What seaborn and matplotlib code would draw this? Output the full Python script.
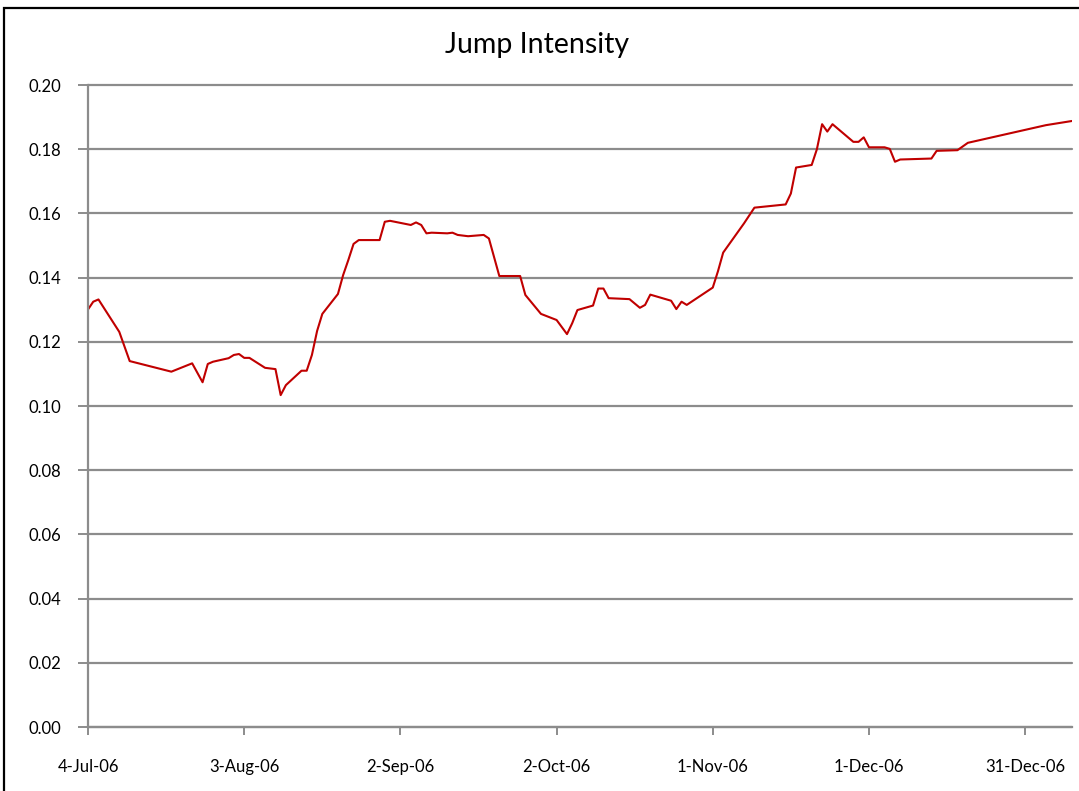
import pandas as pd
import seaborn as sns
import matplotlib
matplotlib.use("Agg")
import matplotlib.pyplot as plt
from matplotlib.patches import Rectangle

# values
dates = [
    "2006-07-04", "2006-07-05", "2006-07-06", "2006-07-10", "2006-07-12",
    "2006-07-20", "2006-07-24", "2006-07-26", "2006-07-27", "2006-07-28",
    "2006-07-31", "2006-08-01", "2006-08-02", "2006-08-03", "2006-08-04",
    "2006-08-07", "2006-08-09", "2006-08-10", "2006-08-11", "2006-08-14",
    "2006-08-15", "2006-08-16", "2006-08-17", "2006-08-18", "2006-08-21",
    "2006-08-22", "2006-08-23", "2006-08-24", "2006-08-25", "2006-08-29",
    "2006-08-30", "2006-08-31", "2006-09-04", "2006-09-05", "2006-09-06",
    "2006-09-07", "2006-09-08", "2006-09-11", "2006-09-12", "2006-09-13",
    "2006-09-15", "2006-09-18", "2006-09-19", "2006-09-21", "2006-09-25",
    "2006-09-26", "2006-09-29", "2006-10-02", "2006-10-04", "2006-10-05",
    "2006-10-06", "2006-10-09", "2006-10-10", "2006-10-11", "2006-10-12",
    "2006-10-16", "2006-10-18", "2006-10-19", "2006-10-20", "2006-10-24",
    "2006-10-25", "2006-10-26", "2006-10-27", "2006-11-01", "2006-11-02",
    "2006-11-03", "2006-11-07", "2006-11-09", "2006-11-15", "2006-11-16",
    "2006-11-17", "2006-11-20", "2006-11-21", "2006-11-22", "2006-11-23",
    "2006-11-24", "2006-11-28", "2006-11-29", "2006-11-30", "2006-12-01",
    "2006-12-04", "2006-12-05", "2006-12-06", "2006-12-07", "2006-12-13",
    "2006-12-14", "2006-12-18", "2006-12-20", "2007-01-04", "2007-01-09",
]
intensity = [
    0.1301, 0.1325, 0.1332, 0.1231, 0.1140,
    0.1107, 0.1133, 0.1074, 0.1131, 0.1138,
    0.1149, 0.1159, 0.1162, 0.1150, 0.1150,
    0.1119, 0.1115, 0.1034, 0.1065, 0.1110,
    0.1110, 0.1159, 0.1234, 0.1287, 0.1349,
    0.1408, 0.1455, 0.1505, 0.1517, 0.1517,
    0.1574, 0.1577, 0.1564, 0.1572, 0.1564,
    0.1538, 0.1540, 0.1538, 0.1540, 0.1533,
    0.1529, 0.1533, 0.1522, 0.1405, 0.1405,
    0.1346, 0.1287, 0.1268, 0.1224, 0.1258,
    0.1299, 0.1313, 0.1366, 0.1366, 0.1336,
    0.1333, 0.1306, 0.1315, 0.1347, 0.1328,
    0.1302, 0.1325, 0.1315, 0.1369, 0.1420,
    0.1478, 0.1569, 0.1618, 0.1628, 0.1662,
    0.1743, 0.1751, 0.1800, 0.1878, 0.1855,
    0.1878, 0.1823, 0.1823, 0.1837, 0.1806,
    0.1806, 0.1801, 0.1761, 0.1768, 0.1771,
    0.1795, 0.1797, 0.1820, 0.1875, 0.1888,
]
tick_labels = ["4-Jul-06", "3-Aug-06", "2-Sep-06", "2-Oct-06",
               "1-Nov-06", "1-Dec-06", "31-Dec-06"]

df = pd.DataFrame({"Date": pd.to_datetime(dates), "Jump Intensity": intensity})
tick_dates = pd.date_range("2006-07-04", periods=len(tick_labels), freq="30D")

sns.set_style("white")
plt.rcParams["font.family"] = ["Lato", "DejaVu Sans"]

fig = plt.figure(figsize=(10.79, 7.91), dpi=100)
ax = fig.add_axes([0.0816, 0.0809, 0.9119, 0.8116])

sns.lineplot(data=df, x="Date", y="Jump Intensity", color="#C00000",
             linewidth=1.5, ax=ax)

ax.set_xlim(pd.Timestamp("2006-07-04"), pd.Timestamp("2007-01-09"))
ax.set_ylim(0, 0.20)
ax.set_yticks([i * 0.02 for i in range(11)])
ax.yaxis.set_major_formatter(plt.FormatStrFormatter("%.2f"))
ax.set_xticks(tick_dates)
ax.set_xticklabels(tick_labels)

ax.grid(axis="y", color="#8c8c8c", linewidth=1.6)
for gl in ax.get_ygridlines():
    gl.set_clip_on(False)
ax.set_axisbelow(True)
for side in ["top", "right"]:
    ax.spines[side].set_visible(False)
for side in ["left", "bottom"]:
    ax.spines[side].set_color("#8c8c8c")
    ax.spines[side].set_linewidth(1.6)
ax.tick_params(axis="both", direction="out", colors="#8c8c8c", labelcolor="black",
               labelsize=12, width=1.4, bottom=True, left=True)
ax.tick_params(axis="x", length=6, pad=17)
ax.tick_params(axis="y", length=7, pad=12)
ax.set_xlabel("")
ax.set_ylabel("")

fig.text(0.4977, 0.933, "Jump Intensity", ha="center", va="baseline",
         fontsize=20.5, color="black")

# outer chart frame
fig.patches.append(Rectangle((4 / 1079, -0.05), 1.1, 0.9899 + 0.05,
                             transform=fig.transFigure, fill=False,
                             edgecolor="black", linewidth=1.6))

fig.savefig("out.png", dpi=100)
